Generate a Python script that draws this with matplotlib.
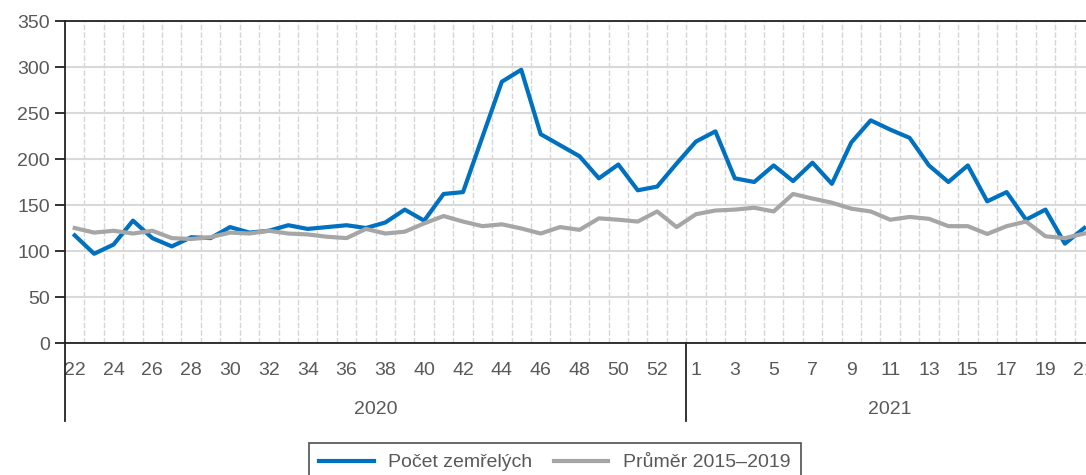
import matplotlib
matplotlib.use("Agg")
import matplotlib.pyplot as plt
import matplotlib.transforms as mtransforms

plt.rcParams['font.family'] = ['Liberation Sans', 'DejaVu Sans']

weeks_2020 = list(range(22, 54))
weeks_2021 = list(range(1, 22))
years = ["2020", "2021"]

deaths = [117, 97, 107, 133, 114, 105, 115, 114, 126, 120, 122, 128, 124, 126, 128, 125,
          131, 145, 133, 162, 164, 224, 284, 297, 227, 215, 203, 179, 194, 166, 170, 195,
          219, 230, 179, 175, 193, 176, 196, 173, 218, 242, 232, 223, 193, 175, 193, 154,
          164, 134, 145, 108, 125]
average = [125, 120, 122, 119, 122, 114, 113, 115, 120, 119, 122, 119, 118, 115.5, 114, 124,
           119, 121, 130, 138, 132, 127, 129, 124.5, 119, 126, 123, 135.5, 134, 132, 143, 126,
           140, 144, 145, 147, 143, 162, 157, 152.5, 146, 143, 134, 137, 135, 127, 127, 118.5,
           127, 132, 116, 114, 119]

series_names = ["Počet zemřelých", "Průměr 2015–2019"]
colors = ["#0070C0", "#A6A6A6"]
text_color = "#595959"

W, H = 1086, 475
fig = plt.figure(figsize=(W / 100, H / 100), dpi=100)
left, right, top, bottom = 65, 1094, 21, 343
ax = fig.add_axes([left / W, (H - bottom) / H, (right - left) / W, (bottom - top) / H])

n = len(weeks_2020) + len(weeks_2021)
x = list(range(n))

ax.plot(x, deaths, color=colors[0], lw=3, label=series_names[0], zorder=3,
        solid_joinstyle='round')
ax.plot(x, average, color=colors[1], lw=3, label=series_names[1], zorder=4,
        solid_joinstyle='round')

ax.set_xlim(-0.5, n - 0.5)
ax.set_ylim(0, 350)
ax.set_yticks(range(0, 351, 50))

# vertical dashed grid at category boundaries
ax.set_xticks([i + 0.5 for i in range(n - 1)], minor=True)
ax.grid(True, which='minor', axis='x', color='#D6D6D6', lw=1, ls=(0, (4, 1.5)))
ax.grid(True, which='major', axis='y', color='#D9D9D9', lw=1.5)
ax.set_axisbelow(True)

all_labels = [str(w) for w in weeks_2020] + [str(w) for w in weeks_2021]
tick_pos = [i for i in range(len(weeks_2020)) if i % 2 == 0] + \
           [len(weeks_2020) + i for i in range(len(weeks_2021)) if i % 2 == 0]
ax.set_xticks(tick_pos)
ax.set_xticklabels([all_labels[i] for i in tick_pos])
ax.tick_params(axis='x', which='both', length=0, labelsize=14, colors=text_color, pad=14)
ax.tick_params(axis='y', length=7, width=1.3, labelsize=14, labelcolor=text_color,
               color='#222222', pad=4)

for s in ['top', 'left', 'bottom']:
    ax.spines[s].set_color('#222222')
    ax.spines[s].set_linewidth(1.3)
ax.spines['right'].set_visible(False)

# year group separators and labels
trans = mtransforms.blended_transform_factory(ax.transData, ax.transAxes)
ext = -(421 - 343) / (bottom - top)
for xb in [-0.5, len(weeks_2020) - 0.5, n - 0.5]:
    ax.plot([xb, xb], [0, ext], transform=trans, color='#222222', lw=1.3, clip_on=False)
ax.text((len(weeks_2020) - 1) / 2, -(409 - 343) / (bottom - top), years[0],
        transform=trans, ha='center', va='center', fontsize=14, color=text_color)
ax.text(len(weeks_2020) - 0.5 + len(weeks_2021) / 2, -(409 - 343) / (bottom - top), years[1],
        transform=trans, ha='center', va='center', fontsize=14, color=text_color)

leg = fig.legend(loc='upper center', bbox_to_anchor=(555 / W, (H - 443) / H), ncol=2,
                 frameon=True, fancybox=False, fontsize=14, handlelength=2.8,
                 columnspacing=1.1, handletextpad=0.75, borderpad=0.55, borderaxespad=0)
leg.get_frame().set_edgecolor('#222222')
leg.get_frame().set_linewidth(1.2)
for t in leg.get_texts():
    t.set_color(text_color)

fig.savefig("out.png", dpi=100)
